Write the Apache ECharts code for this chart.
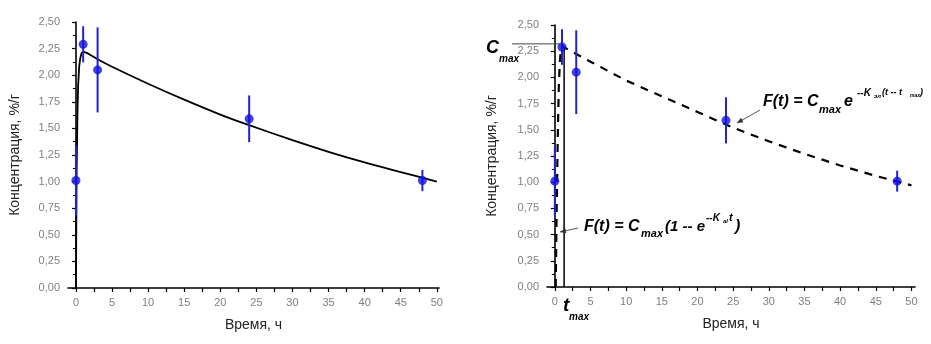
<!DOCTYPE html>
<html><head><meta charset="utf-8">
<script src="https://cdn.jsdelivr.net/npm/echarts@6/dist/echarts.min.js"></script>
<style>html,body{margin:0;padding:0;background:#fff}#c{width:931px;height:344px}</style>
</head><body><div id="c"></div>
<script>
// ---- data ----
var times = [0, 1, 3, 24, 48];
var conc = [1.01, 2.29, 2.05, 1.59, 1.01];
var errs = [0.33, 0.17, 0.40, 0.22, 0.10];
// fitted curve: rise part and decay part
var riseT = [0, 0.05, 0.1, 0.2, 0.3, 0.45, 0.6, 0.8, 1.0];
var riseC = [0, 0.6, 1.1, 1.6, 1.9, 2.08, 2.16, 2.21, 2.22];
var decayT = [1.0, 1.5, 2, 3, 5, 10, 15, 20, 24, 30, 35, 40, 45, 50];
var decayC = [2.22, 2.21, 2.19, 2.15, 2.08, 1.92, 1.77, 1.63, 1.53, 1.39, 1.28, 1.18, 1.09, 1.00];
// dashed model curve
var modT = [0.12, 0.25, 0.4, 0.55, 0.7, 0.85, 1.0, 1.2, 2, 5, 10, 15, 20, 25, 30, 35, 40, 45, 50];
var modC = [0, 0.7, 1.4, 1.9, 2.15, 2.26, 2.3, 2.3, 2.26, 2.15, 1.97, 1.82, 1.67, 1.52, 1.39, 1.27, 1.16, 1.06, 0.97];
var tMax = 1.3;
var cMax = 2.32;
var xTicks = [0, 5, 10, 15, 20, 25, 30, 35, 40, 45, 50];
var xMinor = [2.5, 7.5, 12.5, 17.5, 22.5, 27.5, 32.5, 37.5, 42.5, 47.5];
var yTitle = 'Концентрация, %/г';
var xTitle = 'Время, ч';

function zip(a, b) { return a.map(function (v, i) { return [v, b[i]]; }); }
var pts = zip(times, conc);
var errData = times.map(function (t, i) { return [t, conc[i], errs[i]]; });

var FONT = 'Liberation Sans, Arial, sans-serif';
var BLUE = '#1010e0';

function xAxis(gi, max) {
  return {
    type: 'value', gridIndex: gi, min: -1.1, max: max,
    name: xTitle, nameLocation: 'middle', nameGap: 30,
    nameTextStyle: { fontFamily: FONT, fontSize: 14, color: '#222' },
    axisLine: { onZero: false, lineStyle: { color: '#000', width: 1.6 } },
    axisTick: { show: true, customValues: xTicks.concat(xMinor), length: 4, inside: false, lineStyle: { color: '#000', width: 1.2 } },
    axisLabel: { customValues: xTicks, margin: 9, fontFamily: FONT, fontSize: 11, color: '#808080' },
    splitLine: { show: false }
  };
}
function yAxis(gi, gap) {
  return {
    type: 'value', gridIndex: gi, min: 0, max: 2.5, interval: 0.25,
    name: yTitle, nameLocation: 'middle', nameGap: gap, nameRotate: 90,
    nameTextStyle: { fontFamily: FONT, fontSize: 14, color: '#222' },
    axisLine: { show: true, lineStyle: { color: '#000', width: 1.6 } },
    axisTick: { show: true, length: 4, lineStyle: { color: '#000', width: 1.2 } },
    minorTick: { show: true, splitNumber: 2, length: 3, lineStyle: { color: '#000', width: 1 } },
    axisLabel: { margin: 8, fontFamily: FONT, fontSize: 11, color: '#808080',
      formatter: function (v) { return v.toFixed(2).replace('.', ','); } },
    splitLine: { show: false }
  };
}
function errSeries(xi) {
  return {
    type: 'custom', xAxisIndex: xi, yAxisIndex: xi, data: errData, z: 5,
    renderItem: function (params, api) {
      var t = api.value(0), y = api.value(1), e = api.value(2);
      var p1 = api.coord([t, y + e]), p2 = api.coord([t, y - e]);
      return { type: 'line', shape: { x1: p1[0], y1: p1[1], x2: p2[0], y2: p2[1] },
        style: { stroke: '#2323d4', lineWidth: 2 } };
    }
  };
}
function ptsSeries(xi) {
  return { type: 'scatter', xAxisIndex: xi, yAxisIndex: xi, data: pts, symbol: 'circle', symbolSize: 9,
    itemStyle: { color: BLUE }, z: 6 };
}

var chart = echarts.init(document.getElementById('c'), null, { renderer: 'canvas' });
chart.setOption({
  animation: false,
  grid: [
    { left: 68, top: 22, width: 371, height: 266 },
    { left: 547, top: 25, width: 368, height: 262 }
  ],
  xAxis: [xAxis(0, 50.3), xAxis(1, 50.5)],
  yAxis: [yAxis(0, 46), yAxis(1, 48)],
  series: [
    { type: 'line', xAxisIndex: 0, yAxisIndex: 0, data: zip(riseT, riseC), smooth: false, showSymbol: false,
      lineStyle: { color: '#000', width: 1.8 }, z: 3 },
    { type: 'line', xAxisIndex: 0, yAxisIndex: 0, data: zip(decayT, decayC), smooth: 0.3, showSymbol: false,
      lineStyle: { color: '#000', width: 1.8 }, z: 3 },
    errSeries(0), ptsSeries(0),
    { type: 'line', xAxisIndex: 1, yAxisIndex: 1, data: zip(modT, modC), smooth: false, showSymbol: false,
      lineStyle: { color: '#000', width: 2.2, type: [8, 7] }, z: 3 },
    { type: 'line', xAxisIndex: 1, yAxisIndex: 1, data: [[tMax, 0], [tMax, cMax - 0.03]], showSymbol: false,
      lineStyle: { color: '#000', width: 1.5 }, z: 2 },
    errSeries(1), ptsSeries(1)
  ]
});

function px(v) { return chart.convertToPixel({ gridIndex: 1 }, v); }
var g = [];
function txt(x, y, s, size, italic, color, align) {
  g.push({ type: 'text', x: x, y: y, z: 50, style: { text: s, fontFamily: FONT, fontSize: size,
    fontWeight: 'bold', fontStyle: italic ? 'italic' : 'normal', fill: color || '#000',
    textAlign: align || 'left', textVerticalAlign: 'middle' } });
}
function arrow(x1, y1, x2, y2) {
  g.push({ type: 'line', z: 50, shape: { x1: x1, y1: y1, x2: x2, y2: y2 }, style: { stroke: '#555', lineWidth: 1 } });
  var a = Math.atan2(y2 - y1, x2 - x1), L = 6, W = 2.5;
  var bx = x2 - L * Math.cos(a), by = y2 - L * Math.sin(a);
  g.push({ type: 'polygon', z: 50, shape: { points: [[x2, y2],
    [bx + W * Math.sin(a), by - W * Math.cos(a)], [bx - W * Math.sin(a), by + W * Math.cos(a)]] },
    style: { fill: '#333' } });
}
// Cmax reference line
var pc = px([0.7, cMax]);
g.push({ type: 'line', z: 40, shape: { x1: 512, y1: pc[1], x2: pc[0], y2: pc[1] }, style: { stroke: '#444', lineWidth: 1 } });
txt(486, pc[1] + 4, 'C', 18, true, '#000', 'left');
txt(499, pc[1] + 15, 'max', 10, true, '#000', 'left');
// t max label
var pt = px([tMax, 0]);
txt(pt[0] - 1, pt[1] + 19, 't', 19, true);
txt(pt[0] + 5, pt[1] + 30, 'max', 10, true);
// formula 1
var f1x = 584, f1y = 227;
txt(f1x, f1y, 'F(t) = C', 16, true);
txt(f1x + 57, f1y + 7, 'max', 11, true);
txt(f1x + 81, f1y, '(1 -- e', 15, true);
txt(f1x + 122, f1y - 9, '--K', 10, true);
txt(f1x + 139, f1y - 6, 'al', 6, true);
txt(f1x + 145, f1y - 9, 't', 11, true);
txt(f1x + 151, f1y, ')', 16, true);
arrow(578, 228, 560, 232);
// formula 2
var f2x = 763, f2y = 102;
txt(f2x, f2y, 'F(t) = C', 16, true);
txt(f2x + 56, f2y + 8, 'max', 11, true);
txt(f2x + 81, f2y, 'e', 16, true);
txt(f2x + 94, f2y - 9, '--K', 10, true);
txt(f2x + 111, f2y - 6, 'эл', 6, true);
txt(f2x + 119, f2y - 9, '(t -- t', 9, true);
txt(f2x + 147, f2y - 6, 'max', 5, true);
txt(f2x + 157, f2y - 9, ')', 9, true);
arrow(760, 110, 737, 123);
chart.setOption({ graphic: g });
</script>
</body></html>
